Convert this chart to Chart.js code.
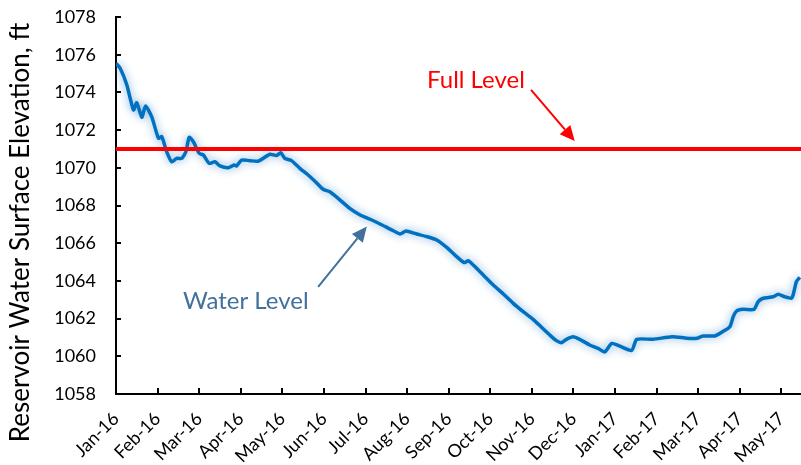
<!DOCTYPE html>
<html>
<head>
<meta charset="utf-8">
<script src="https://cdn.jsdelivr.net/npm/chart.js@4.4.1/dist/chart.umd.min.js"></script>
<style>
  html, body { margin: 0; padding: 0; background: #fff; }
  #wrap { width: 801px; height: 465px; position: relative; }
</style>
</head>
<body>
<div id="wrap"><canvas id="levelChart"></canvas></div>
<script>
// Reservoir level chart (Jan-16 .. May-17)

// month tick labels, one per month index
const monthLabels = ["Jan-16", "Feb-16", "Mar-16", "Apr-16", "May-16", "Jun-16", "Jul-16", "Aug-16",
  "Sep-16", "Oct-16", "Nov-16", "Dec-16", "Jan-17", "Feb-17", "Mar-17", "Apr-17", "May-17"];

// x position of each reading, in months since Jan-16
const waterMonths = [0, 0.1, 0.26, 0.42, 0.5, 0.62, 0.71, 0.86, 1.02, 1.1, 1.22, 1.34, 1.46, 1.58,
  1.68, 1.76, 1.86, 2.0, 2.1, 2.24, 2.38, 2.5, 2.7, 2.84, 2.9, 3.02, 3.22, 3.42, 3.7, 3.86, 3.96,
  4.06, 4.22, 4.42, 4.62, 4.82, 4.98, 5.14, 5.34, 5.62, 5.87, 6.11, 6.35, 6.59, 6.83, 6.97, 7.23,
  7.47, 7.71, 7.95, 8.15, 8.37, 8.47, 8.59, 8.83, 9.07, 9.31, 9.55, 9.79, 10.03, 10.23, 10.43,
  10.59, 10.71, 10.83, 10.99, 11.15, 11.39, 11.59, 11.75, 11.92, 12.1, 12.4, 12.52, 12.91, 13.37,
  13.73, 13.97, 14.11, 14.4, 14.59, 14.76, 14.84, 14.92, 15.08, 15.34, 15.44, 15.56, 15.8, 15.92,
  16.08, 16.24, 16.28, 16.36, 16.44];

// reservoir water surface elevation (ft)
const waterLevels = [1075.54, 1075.28, 1074.4, 1073.07, 1073.45, 1072.68, 1073.28, 1072.7, 1071.57,
  1071.65, 1070.85, 1070.32, 1070.5, 1070.5, 1070.85, 1071.62, 1071.38, 1070.77, 1070.68, 1070.24,
  1070.32, 1070.1, 1070.0, 1070.15, 1070.1, 1070.41, 1070.38, 1070.35, 1070.72, 1070.65, 1070.8,
  1070.5, 1070.38, 1069.97, 1069.62, 1069.21, 1068.86, 1068.73, 1068.38, 1067.85, 1067.5, 1067.27,
  1067.02, 1066.75, 1066.49, 1066.65, 1066.49, 1066.35, 1066.17, 1065.78, 1065.37, 1064.97,
  1065.07, 1064.84, 1064.31, 1063.78, 1063.31, 1062.81, 1062.37, 1061.96, 1061.54, 1061.13,
  1060.83, 1060.72, 1060.9, 1061.04, 1060.9, 1060.6, 1060.42, 1060.23, 1060.68, 1060.55, 1060.31,
  1060.9, 1060.9, 1061.04, 1060.96, 1060.96, 1061.08, 1061.08, 1061.31, 1061.57, 1062.1, 1062.4,
  1062.49, 1062.49, 1062.9, 1063.08, 1063.16, 1063.29, 1063.16, 1063.08, 1063.25, 1063.96, 1064.19];

// full pool level (ft)
const fullLevel = 1071;
const xMin = 0;
const xMax = 16.47;

const yMin = 1058;
const yMax = 1078;
const yStep = 2;

const FONT = "Lato, 'Open Sans', sans-serif";

// annotations, anchored in data units (month, elevation)
const notes = [
  { text: "Water Level", x: 1.61, y: 1062.5, color: "#41719C",
    arrowFrom: [4.86, 1063.68], arrowTo: [6.03, 1066.88] },
  { text: "Full Level", x: 7.48, y: 1074.23, color: "#FF0000",
    arrowFrom: [9.98, 1074.13], arrowTo: [11.03, 1071.42] }
];

// Soft blue glow behind the water level line
const glowPlugin = {
  id: "glow",
  beforeDatasetDraw(chart, args) {
    if (args.meta.label !== "Water Level") return;
    const ctx = chart.ctx;
    ctx.save();
    ctx.shadowColor = "rgba(91, 155, 213, 0.85)";
    ctx.shadowBlur = 8;
    ctx.shadowOffsetX = 0;
    ctx.shadowOffsetY = 0;
  },
  afterDatasetDraw(chart, args) {
    if (args.meta.label !== "Water Level") return;
    chart.ctx.restore();
  }
};

// Tick marks pointing into the plot, axis title and text callouts
const decorPlugin = {
  id: "decor",
  afterDraw(chart) {
    const ctx = chart.ctx;
    const xs = chart.scales.x;
    const ys = chart.scales.y;
    const area = chart.chartArea;

    ctx.save();
    ctx.strokeStyle = "#000";
    ctx.lineWidth = 2;
    xs.ticks.forEach(t => {
      const px = Math.round(xs.getPixelForValue(t.value));
      if (px <= area.left + 1) return;
      ctx.beginPath();
      ctx.moveTo(px, area.bottom);
      ctx.lineTo(px, area.bottom - 6);
      ctx.stroke();
    });
    ys.ticks.forEach(t => {
      const py = Math.round(ys.getPixelForValue(t.value));
      if (py >= area.bottom - 1) return;
      ctx.beginPath();
      ctx.moveTo(area.left, py);
      ctx.lineTo(area.left + 5, py);
      ctx.stroke();
    });

    // y axis title, centred on the whole figure height
    ctx.translate(21, chart.height / 2);
    ctx.rotate(-Math.PI / 2);
    ctx.fillStyle = "#000";
    ctx.font = "26px " + FONT;
    ctx.textAlign = "center";
    ctx.textBaseline = "middle";
    ctx.fillText("Reservoir Water Surface Elevation, ft", 0, 0);
    ctx.restore();

    notes.forEach(n => {
      ctx.save();
      ctx.fillStyle = n.color;
      ctx.strokeStyle = n.color;
      ctx.font = "24px " + FONT;
      ctx.textAlign = "left";
      ctx.textBaseline = "alphabetic";
      ctx.fillText(n.text, xs.getPixelForValue(n.x), ys.getPixelForValue(n.y));

      const x1 = xs.getPixelForValue(n.arrowFrom[0]);
      const y1 = ys.getPixelForValue(n.arrowFrom[1]);
      const x2 = xs.getPixelForValue(n.arrowTo[0]);
      const y2 = ys.getPixelForValue(n.arrowTo[1]);
      const ang = Math.atan2(y2 - y1, x2 - x1);
      const headLen = 15;
      const headW = 7;
      const bx = x2 - headLen * Math.cos(ang);
      const by = y2 - headLen * Math.sin(ang);

      ctx.lineWidth = 2;
      ctx.beginPath();
      ctx.moveTo(x1, y1);
      ctx.lineTo(bx, by);
      ctx.stroke();

      ctx.beginPath();
      ctx.moveTo(x2, y2);
      ctx.lineTo(bx + headW * Math.sin(ang), by - headW * Math.cos(ang));
      ctx.lineTo(bx - headW * Math.sin(ang), by + headW * Math.cos(ang));
      ctx.closePath();
      ctx.fill();
      ctx.restore();
    });
  }
};

// drop the automatic label overhang so the layout padding decides the plot box
function clearScalePadding(scale) {
  scale.paddingTop = 0;
  scale.paddingBottom = 0;
  scale.paddingLeft = 0;
  scale.paddingRight = 0;
}

const waterData = waterMonths.map((m, i) => ({ x: m, y: waterLevels[i] }));
const fullData = [{ x: xMin, y: fullLevel }, { x: xMax, y: fullLevel }];

const ctx = document.getElementById("levelChart").getContext("2d");
const levelChart = new Chart(ctx, {
  type: "line",
  data: {
    datasets: [
      {
        label: "Full Level",
        data: fullData,
        borderColor: "#FF0000",
        borderWidth: 4,
        pointRadius: 0,
        fill: false,
        order: 0
      },
      {
        label: "Water Level",
        data: waterData,
        borderColor: "#0070C0",
        borderWidth: 3.5,
        pointRadius: 0,
        tension: 0.2,
        fill: false,
        order: 1
      }
    ]
  },
  options: {
    responsive: true,
    maintainAspectRatio: false,
    animation: false,
    layout: { padding: { top: 17, right: 0, bottom: 0, left: 0 } },
    plugins: {
      legend: { display: false },
      tooltip: { enabled: false }
    },
    scales: {
      x: {
        type: "linear",
        min: xMin,
        max: xMax,
        afterBuildTicks: scale => {
          scale.ticks = monthLabels.map((_, i) => ({ value: i }));
        },
        afterFit: scale => {
          scale.height = 71;
          clearScalePadding(scale);
        },
        ticks: {
          stepSize: 1,
          autoSkip: false,
          maxRotation: 45,
          minRotation: 45,
          padding: 14,
          color: "#000",
          font: { family: FONT, size: 18 },
          callback: value => monthLabels[value] || ""
        },
        grid: { display: false, drawTicks: false },
        border: { display: true, color: "#000", width: 2 }
      },
      y: {
        min: yMin,
        max: yMax,
        afterFit: scale => {
          scale.width = 116;
          clearScalePadding(scale);
        },
        ticks: {
          stepSize: yStep,
          padding: 20,
          color: "#000",
          font: { family: FONT, size: 18 },
          callback: value => String(value)
        },
        grid: { display: false, drawTicks: false },
        border: { display: true, color: "#000", width: 2 }
      }
    }
  },
  plugins: [glowPlugin, decorPlugin]
});
</script>
</body>
</html>
